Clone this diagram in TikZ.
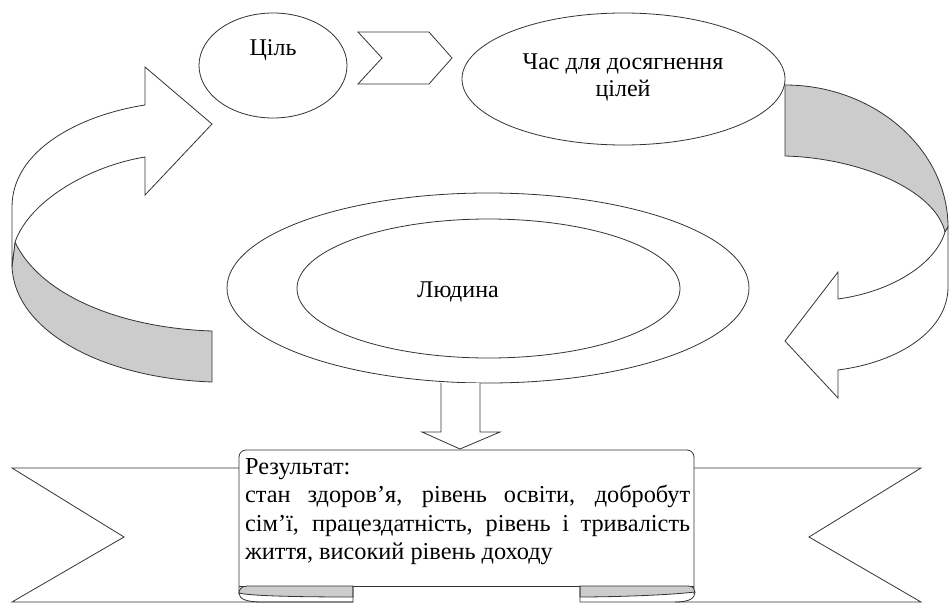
\documentclass[tikz,border=0pt]{standalone}
\usepackage{fontspec}
\setmainfont{Liberation Serif}
\usetikzlibrary{shapes.geometric}
\begin{document}
\begin{tikzpicture}[x=1pt,y=-1pt,
  ln/.style={draw=black!80, line width=0.8pt, line join=miter},
  gr/.style={fill=black!20},
  ell/.style={ellipse, draw=black!80, line width=0.8pt, inner sep=0pt, fill=white},
  lbl/.style={font=\fontsize{24}{27}\selectfont, inner sep=0pt}]
\useasboundingbox (0,0) rectangle (950,605);
% left curved arrow
\draw[ln, gr] (15,242) .. controls (40,295) and (120,328) .. (212,331) -- (212,382) .. controls (100,378) and (15,330) .. (12,267) -- cycle;
\draw[ln, fill=white] (12,267) -- (12,207) .. controls (12,150) and (80,115) .. (145,105) -- (145,67) -- (212,124) -- (145,195) -- (145,157) .. controls (90,166) and (30,200) .. (15,242) -- cycle;
% right curved arrow
\draw[ln, gr] (785,85) .. controls (875,85) and (948,150) .. (948,227) -- (945,232) .. controls (935,190) and (860,158) .. (785,156) -- cycle;
\draw[ln, fill=white] (945,232) .. controls (935,265) and (890,292) .. (838,299) -- (838,272) -- (785,341) -- (838,398) -- (838,370) .. controls (900,362) and (948,330) .. (948,287) -- (948,227) -- cycle;
% top row
\node[ell, minimum width=148pt, minimum height=105pt] (goal) at (273,65.5) {};
\node[lbl] (goalt) at (273,50) {Ціль};
\draw[ln] (358,32) -- (429,32) -- (452,58) -- (429,84) -- (358,84) -- (382,58) -- cycle;
\node[ell, minimum width=323pt, minimum height=132pt] (time) at (623.5,79) {};
\node[lbl, align=center] (timet) at (623,77) {Час для досягнення\\цілей};
% centre
\node[ell, minimum width=522pt, minimum height=190pt] (outer) at (488,288) {};
\node[ell, minimum width=383pt, minimum height=139pt] (inner) at (488.5,288.5) {};
\node[lbl] (lyud) at (458,292) {Людина};
% down arrow
\draw[ln, fill=white] (441,383) -- (441,432) -- (422,432) -- (460,449) -- (500,432) -- (480,432) -- (480,383);
% ribbon tails
\draw[ln] (240,468) -- (12,468) -- (124,537) -- (12,602) -- (353,602);
\draw[ln] (694,468) -- (921,468) -- (809,537) -- (921,602) -- (580,602);
% panel
\draw[ln, fill=white, rounded corners=7pt] (239,594) -- (239,450) -- (694,450) -- (694,594);
\draw[ln] (239,586) -- (694,586);
% curls
\draw[ln, gr] (353,586) -- (247,586) .. controls (241,586) and (239,590) .. (239,593) .. controls (250,596) and (300,597) .. (353,597) -- cycle;
\draw[ln] (239,593) .. controls (239,599) and (246,602) .. (262,602) -- (353,602) -- (353,586);
\draw[ln, gr] (580,586) -- (688,586) .. controls (693,586) and (695,589) .. (695,592) .. controls (660,596) and (600,597) .. (580,597) -- cycle;
\draw[ln] (580,586) -- (580,602) (695,592) .. controls (695,598) and (690,602) .. (675,602);
% text
\node[anchor=north west, inner sep=0pt, align=left, font=\fontsize{24.3}{28.5}\selectfont] (res) at (245,458)
 {Результат:\\
  \makebox[445pt][s]{стан здоров’я, рівень освіти, добробут}\\
  \makebox[445pt][s]{сім’ї, працездатність, рівень і тривалість}\\
  життя, високий рівень доходу};
\end{tikzpicture}
\end{document}
